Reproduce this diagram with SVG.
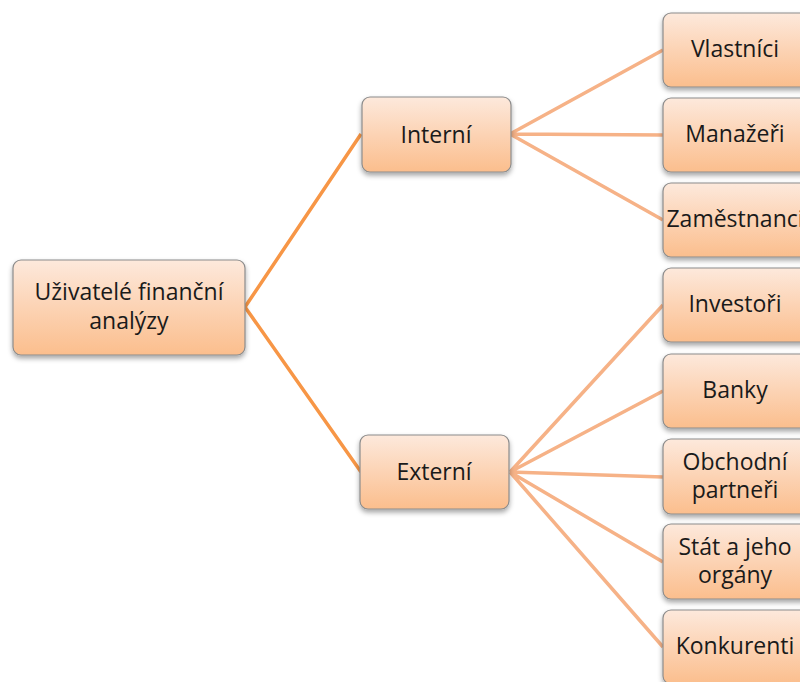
<svg xmlns="http://www.w3.org/2000/svg" width="800" height="682" viewBox="0 0 800 682">
<defs>
<linearGradient id="g" x1="0" y1="0" x2="0" y2="1">
<stop offset="0" stop-color="#FDE9DC"/>
<stop offset="0.5" stop-color="#FCD3B4"/>
<stop offset="1" stop-color="#FBBE8D"/>
</linearGradient>
<filter id="sh" x="-10%" y="-10%" width="130%" height="140%">
<feDropShadow dx="0" dy="3" stdDeviation="2.5" flood-color="#000" flood-opacity="0.35"/>
</filter>
</defs>
<style>
.box{fill:url(#g);stroke:#8C8C8C;stroke-width:1.2;filter:url(#sh)}
.t{font-family:"Open Sans","Liberation Sans",sans-serif;font-size:23px;fill:#1a1a1a;text-anchor:middle}
.c1{stroke:#F79646;stroke-width:3.5;fill:none}
.c2{stroke:#F6B287;stroke-width:3.5;fill:none}
</style>
<rect width="800" height="682" fill="#fff"/>
<g id="connectors">
<path class="c1" d="M245 307 L361 134 M245 307 L361 472"/>
<path class="c2" d="M510 134 L663 50 M510 134 L663 135 M510 134 L663 220"/>
<path class="c2" d="M510 472 L663 305 M510 472 L663 391 M510 472 L663 477 M510 472 L663 562 M510 472 L663 647"/>
</g>
<g id="root"><rect class="box" x="13" y="260" width="232" height="95" rx="8"/>
<text class="t" x="129" y="300">Uživatelé finanční</text><text class="t" x="129" y="329">analýzy</text></g>
<g id="interni"><rect class="box" x="362" y="97" width="149" height="75" rx="8"/><text class="t" x="436" y="143">Interní</text></g>
<g id="externi"><rect class="box" x="360" y="435" width="149" height="74" rx="8"/><text class="t" x="434" y="480">Externí</text></g>
<g id="vlastnici"><rect class="box" x="663" y="13" width="149" height="74" rx="8"/><text class="t" x="735" y="57">Vlastníci</text></g>
<g id="manazeri"><rect class="box" x="663" y="98" width="149" height="74" rx="8"/><text class="t" x="735" y="142">Manažeři</text></g>
<g id="zamestnanci"><rect class="box" x="663" y="183" width="149" height="74" rx="8"/><text class="t" x="735" y="227">Zaměstnanci</text></g>
<g id="investori"><rect class="box" x="663" y="268" width="149" height="74" rx="8"/><text class="t" x="735" y="312">Investoři</text></g>
<g id="banky"><rect class="box" x="663" y="354" width="149" height="74" rx="8"/><text class="t" x="735" y="398">Banky</text></g>
<g id="obchodni"><rect class="box" x="663" y="439" width="149" height="75" rx="8"/><text class="t" x="735" y="470">Obchodní</text><text class="t" x="735" y="498">partneři</text></g>
<g id="stat"><rect class="box" x="663" y="524" width="149" height="75" rx="8"/><text class="t" x="735" y="555">Stát a jeho</text><text class="t" x="735" y="583">orgány</text></g>
<g id="konkurenti"><rect class="box" x="663" y="610" width="149" height="74" rx="8"/><text class="t" x="735" y="654">Konkurenti</text></g>
</svg>
